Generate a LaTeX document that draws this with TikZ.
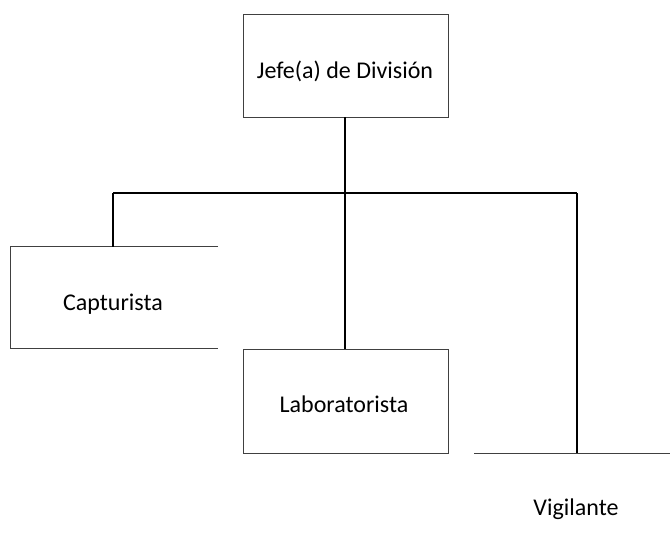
\documentclass[tikz,border=0pt]{standalone}
\usepackage{fontspec}
\setmainfont{Carlito}
\begin{document}
\begin{tikzpicture}[x=1pt,y=-1pt,
  boxedge/.style={draw=black!75,line width=0.8pt},
  conn/.style={draw=black,line width=1.6pt},
  lbl/.style={font=\fontsize{24}{28}\selectfont,anchor=base,inner sep=0pt}]
\useasboundingbox[fill=white] (0,0) rectangle (670,550);
% boxes
\node[boxedge,minimum width=205pt,minimum height=103pt,inner sep=0pt] (jefe) at (346,65.5) {};
\node[minimum width=207pt,minimum height=101pt,inner sep=0pt] (capt) at (114.5,297.5) {};
\node[boxedge,minimum width=205pt,minimum height=104pt,inner sep=0pt] (lab) at (346,401) {};
\coordinate (vl) at (474,453);
\coordinate (vr) at (670,453);
\coordinate (vtop) at (577,453);
% open box of Capturista
\draw[boxedge] (capt.north east) -- (capt.north west) -- (capt.south west) -- (capt.south east);
% Vigilante line
\draw[boxedge] (vl) -- (vr);
% labels
\node[lbl] (tj) at (345,78) {Jefe(a) de División};
\node[lbl] (tc) at (113,310) {Capturista};
\node[lbl] (tl) at (344,412) {Laboratorista};
\node[lbl] (tv) at (576,515) {Vigilante};
% connectors
\coordinate (bus) at (345,193);
\coordinate (busl) at (113,193);
\coordinate (busr) at (577,193);
\draw[conn] (jefe.south -| bus) -- (bus);
\draw[conn] (busl) -- (busr);
\draw[conn] (busl) -- (busl |- capt.north);
\draw[conn] (bus) -- (bus |- lab.north);
\draw[conn] (busr) -- (vtop);
\end{tikzpicture}
\end{document}
